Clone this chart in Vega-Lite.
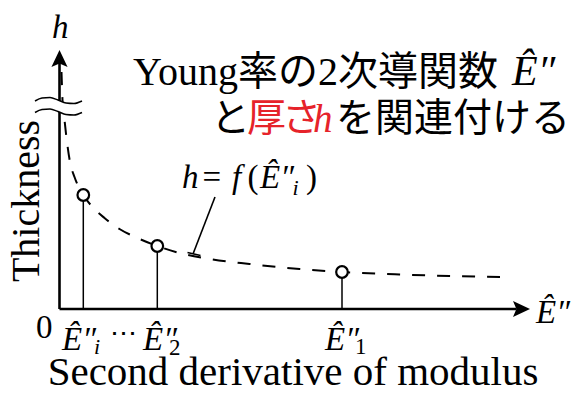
{
  "$schema": "https://vega.github.io/schema/vega-lite/v6.json",
  "width": 581,
  "height": 394,
  "padding": 0,
  "autosize": "none",
  "background": "white",
  "config": {"view": {"stroke": null}},
  "datasets": {
    "curve": [
      {"x": 2, "y": 237}, {"x": 3, "y": 209}, {"x": 4.5, "y": 194}, {"x": 7, "y": 171},
      {"x": 10.5, "y": 147}, {"x": 15, "y": 132}, {"x": 23.8, "y": 114}, {"x": 33, "y": 102},
      {"x": 45, "y": 91}, {"x": 60, "y": 80}, {"x": 78, "y": 71}, {"x": 97.8, "y": 63},
      {"x": 120, "y": 56}, {"x": 150, "y": 50}, {"x": 190, "y": 45}, {"x": 240, "y": 40},
      {"x": 282.5, "y": 37}, {"x": 340, "y": 34.5}, {"x": 390, "y": 33}, {"x": 440.5, "y": 32}
    ],
    "samples": [
      {"x": 23.8, "y": 114}, {"x": 97.8, "y": 63}, {"x": 282.5, "y": 37}
    ],
    "axes": [
      {"x": 0, "y": 0, "x2": 0, "y2": 246},
      {"x": 0, "y": 0, "x2": 457, "y2": 0}
    ],
    "leader": [
      {"x": 155.5, "y": 112, "x2": 133.5, "y2": 55},
      {"x": 128, "y": 56.5, "x2": 141, "y2": 53.5}
    ],
    "breakFill": [
      {"x": -24.5, "y": 208, "y2": 196.5}, {"x": -17.5, "y": 211, "y2": 199.5},
      {"x": -9.5, "y": 211.5, "y2": 200}, {"x": -1.5, "y": 209, "y2": 197.5},
      {"x": 6.5, "y": 206, "y2": 194.5}, {"x": 14.5, "y": 205.5, "y2": 194},
      {"x": 22.5, "y": 208, "y2": 196.5}
    ],
    "breakLines": [
      {"x": -24.5, "y": 208, "w": "upper"}, {"x": -17.5, "y": 211, "w": "upper"},
      {"x": -9.5, "y": 211.5, "w": "upper"}, {"x": -1.5, "y": 209, "w": "upper"},
      {"x": 6.5, "y": 206, "w": "upper"}, {"x": 14.5, "y": 205.5, "w": "upper"},
      {"x": 22.5, "y": 208, "w": "upper"},
      {"x": -24.5, "y": 196.5, "w": "lower"}, {"x": -17.5, "y": 199.5, "w": "lower"},
      {"x": -9.5, "y": 200, "w": "lower"}, {"x": -1.5, "y": 197.5, "w": "lower"},
      {"x": 6.5, "y": 194.5, "w": "lower"}, {"x": 14.5, "y": 194, "w": "lower"},
      {"x": 22.5, "y": 196.5, "w": "lower"}
    ]
  },
  "encoding": {
    "x": {"field": "x", "type": "quantitative", "scale": {"domain": [-59.5, 521.5], "nice": false, "zero": false}, "axis": null},
    "y": {"field": "y", "type": "quantitative", "scale": {"domain": [-85, 309], "nice": false, "zero": false}, "axis": null}
  },
  "layer": [
    {
      "data": {"name": "axes"},
      "mark": {"type": "rule", "color": "black", "strokeWidth": 2.6},
      "encoding": {"x2": {"field": "x2"}, "y2": {"field": "y2"}}
    },
    {
      "data": {"values": [{"x": 0, "y": 250.5}]},
      "mark": {"type": "point", "shape": "M0,-1L0.95,1L0,0.6L-0.95,1Z", "filled": true, "color": "black", "opacity": 1, "size": 289},
      "encoding": {}
    },
    {
      "data": {"values": [{"x": 462, "y": 0}]},
      "mark": {"type": "point", "shape": "M1,0L-1,0.95L-0.6,0L-1,-0.95Z", "filled": true, "color": "black", "opacity": 1, "size": 289},
      "encoding": {}
    },
    {
      "data": {"name": "curve"},
      "mark": {"type": "line", "color": "black", "strokeWidth": 2, "strokeDash": [13, 12], "interpolate": "monotone"},
      "encoding": {}
    },
    {
      "data": {"name": "breakFill"},
      "mark": {"type": "area", "color": "white", "opacity": 1, "interpolate": "monotone"},
      "encoding": {"y2": {"field": "y2"}}
    },
    {
      "data": {"name": "breakLines"},
      "mark": {"type": "line", "color": "black", "strokeWidth": 1.5, "interpolate": "monotone"},
      "encoding": {"detail": {"field": "w"}}
    },
    {
      "data": {"name": "samples"},
      "mark": {"type": "rule", "color": "black", "strokeWidth": 1.5},
      "encoding": {"y": {"datum": 0}, "y2": {"field": "y"}}
    },
    {
      "data": {"name": "leader"},
      "mark": {"type": "rule", "color": "black", "strokeWidth": 1.6},
      "encoding": {"x2": {"field": "x2"}, "y2": {"field": "y2"}}
    },
    {
      "data": {"name": "samples"},
      "mark": {"type": "point", "shape": "circle", "filled": false, "fill": "white", "stroke": "black", "strokeWidth": 2.2, "opacity": 1, "size": 135},
      "encoding": {}
    },
    {
      "data": {"values": [
        {"x": -7.5, "y": 271, "t": "h"},
        {"x": 122.5, "y": 121, "t": "h"},
        {"x": 172.5, "y": 121, "t": "f"},
        {"x": 200.5, "y": 121, "t": "Ê″"},
        {"x": 2.5, "y": -41, "t": "Ê″"},
        {"x": 83.5, "y": -41, "t": "Ê″"},
        {"x": 265.5, "y": -41, "t": "Ê″"},
        {"x": 476.5, "y": -14, "t": "Ê″"}
      ]},
      "mark": {"type": "text", "font": "Liberation Serif, DejaVu Serif, serif", "fontStyle": "italic", "fontSize": 33, "align": "left", "baseline": "alphabetic", "color": "black"},
      "encoding": {"text": {"field": "t"}}
    },
    {
      "data": {"values": [
        {"x": 143, "y": 121, "t": "="},
        {"x": 188, "y": 121, "t": "("},
        {"x": 246.5, "y": 121, "t": ")"},
        {"x": -23.5, "y": -29, "t": "0"}
      ]},
      "mark": {"type": "text", "font": "Liberation Serif, DejaVu Serif, serif", "fontSize": 33, "align": "left", "baseline": "alphabetic", "color": "black"},
      "encoding": {"text": {"field": "t"}}
    },
    {
      "data": {"values": [
        {"x": 233, "y": 114, "t": "i"},
        {"x": 34.5, "y": -45, "t": "i"}
      ]},
      "mark": {"type": "text", "font": "Liberation Serif, DejaVu Serif, serif", "fontStyle": "italic", "fontSize": 22, "align": "left", "baseline": "alphabetic", "color": "black"},
      "encoding": {"text": {"field": "t"}}
    },
    {
      "data": {"values": [
        {"x": 109.5, "y": -46, "t": "2"},
        {"x": 295.5, "y": -45, "t": "1"}
      ]},
      "mark": {"type": "text", "font": "Liberation Serif, DejaVu Serif, serif", "fontSize": 23, "align": "left", "baseline": "alphabetic", "color": "black"},
      "encoding": {"text": {"field": "t"}}
    },
    {
      "data": {"values": [{"x": 64, "y": -25, "t": "⋯"}]},
      "mark": {"type": "text", "font": "DejaVu Serif", "fontSize": 27, "align": "center", "baseline": "middle", "color": "black"},
      "encoding": {"text": {"field": "t"}}
    },
    {
      "data": {"values": [{"x": -20.5, "y": 108, "t": "Thickness"}]},
      "mark": {"type": "text", "font": "Liberation Serif, DejaVu Serif, serif", "fontSize": 40, "angle": 270, "align": "center", "baseline": "alphabetic", "color": "black"},
      "encoding": {"text": {"field": "t"}}
    },
    {
      "data": {"values": [{"x": 233.5, "y": -76, "t": "Second derivative of modulus"}]},
      "mark": {"type": "text", "font": "Liberation Serif, DejaVu Serif, serif", "fontSize": 41, "align": "center", "baseline": "alphabetic", "color": "black"},
      "encoding": {"text": {"field": "t"}}
    },
    {
      "data": {"values": [{"x": 73.5, "y": 224, "t": "Young率の2次導関数"}]},
      "mark": {"type": "text", "font": "Liberation Serif, Noto Sans CJK JP", "fontSize": 40, "align": "left", "baseline": "alphabetic", "color": "black"},
      "encoding": {"text": {"field": "t"}}
    },
    {
      "data": {"values": [{"x": 452.5, "y": 224, "t": "Ê″"}]},
      "mark": {"type": "text", "font": "Liberation Serif, DejaVu Serif, serif", "fontStyle": "italic", "fontSize": 42, "align": "left", "baseline": "alphabetic", "color": "black"},
      "encoding": {"text": {"field": "t"}}
    },
    {
      "data": {"values": [
        {"x": 151.5, "y": 178, "t": "と"},
        {"x": 276.5, "y": 178, "t": "を関連付ける"}
      ]},
      "mark": {"type": "text", "font": "Noto Sans CJK JP", "fontSize": 39, "align": "left", "baseline": "alphabetic", "color": "black"},
      "encoding": {"text": {"field": "t"}}
    },
    {
      "data": {"values": [
        {"x": 187.5, "y": 178, "t": "厚"},
        {"x": 222.5, "y": 178, "t": "さ"}
      ]},
      "mark": {"type": "text", "font": "Noto Sans CJK JP", "fontSize": 39, "align": "left", "baseline": "alphabetic", "color": "#e6232a"},
      "encoding": {"text": {"field": "t"}}
    },
    {
      "data": {"values": [{"x": 253.5, "y": 177, "t": "h"}]},
      "mark": {"type": "text", "font": "Liberation Serif, DejaVu Serif, serif", "fontStyle": "italic", "fontSize": 39, "align": "left", "baseline": "alphabetic", "color": "#e6232a"},
      "encoding": {"text": {"field": "t"}}
    }
  ]
}
